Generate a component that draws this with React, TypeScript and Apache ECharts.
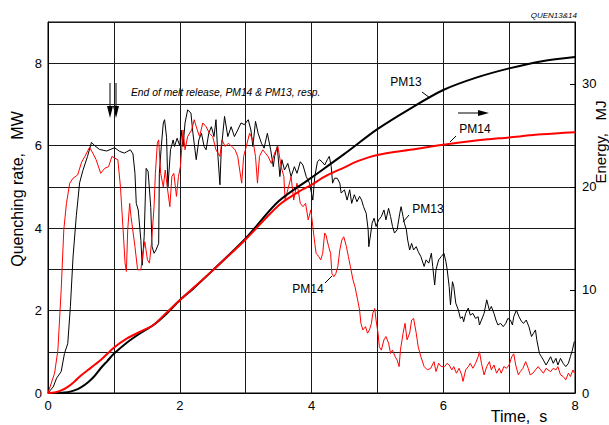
import React, { useEffect, useRef } from "react";
import * as echarts from "echarts";

// Quenching rate, MW  [time s, MW]
const pm13Quench: number[][] = [
  [0,0],[0.08,0.15],[0.13,0.36],[0.2,0.52],[0.25,0.96],[0.3,1.2],[0.34,2.1],[0.38,3.3],[0.43,4.3],[0.48,5.1],[0.53,5.4],[0.6,5.74],[0.66,6.08],[0.71,6.0],[0.78,5.91],[0.89,5.87],[1.01,5.95],[1.09,5.86],[1.16,5.82],[1.25,5.9],[1.29,5.8],[1.32,5.33],[1.34,4.6],[1.37,4.44],[1.41,3.7],[1.43,3.1],[1.46,3.8],[1.49,5.45],[1.52,5.37],[1.56,4.5],[1.58,3.55],[1.61,3.39],[1.64,3.47],[1.68,3.63],[1.69,5.33],[1.72,5.98],[1.75,6.55],[1.77,6.63],[1.8,6.2],[1.82,5.0],[1.86,5.9],[1.9,6.14],[1.92,5.98],[1.96,6.18],[2.0,6.0],[2.02,6.38],[2.05,5.98],[2.08,6.55],[2.12,6.87],[2.17,6.79],[2.2,6.3],[2.25,5.66],[2.29,6.14],[2.33,6.3],[2.37,5.98],[2.4,5.9],[2.44,6.3],[2.48,6.46],[2.52,6.22],[2.55,6.63],[2.58,5.74],[2.61,5.05],[2.63,5.9],[2.68,6.71],[2.73,6.22],[2.78,6.46],[2.83,6.22],[2.88,6.38],[2.93,6.55],[2.98,6.51],[3.04,6.63],[3.08,6.38],[3.11,5.98],[3.15,6.59],[3.19,6.3],[3.24,6.06],[3.28,5.94],[3.33,6.3],[3.38,5.9],[3.42,5.49],[3.44,5.74],[3.48,5.98],[3.52,5.25],[3.55,5.66],[3.59,5.41],[3.64,5.57],[3.69,5.25],[3.74,5.49],[3.78,5.33],[3.83,5.61],[3.87,5.53],[3.92,5.25],[3.97,5.09],[4.02,4.68],[4.05,5.25],[4.09,5.61],[4.12,5.66],[4.16,5.61],[4.2,5.53],[4.24,5.66],[4.27,5.74],[4.3,5.49],[4.32,5.09],[4.35,5.21],[4.39,5.21],[4.43,5.09],[4.45,4.85],[4.5,4.93],[4.54,4.68],[4.58,4.93],[4.61,4.6],[4.65,4.81],[4.69,4.64],[4.73,4.77],[4.76,4.68],[4.79,4.52],[4.83,4.36],[4.86,3.96],[4.87,3.55],[4.9,3.88],[4.92,4.12],[4.95,4.24],[4.98,4.04],[5.02,4.2],[5.06,4.28],[5.1,4.44],[5.13,4.2],[5.17,4.48],[5.2,4.28],[5.23,4.04],[5.26,3.88],[5.3,3.96],[5.34,4.36],[5.36,4.52],[5.39,4.28],[5.41,4.12],[5.44,3.96],[5.46,3.71],[5.49,3.47],[5.52,3.63],[5.55,3.47],[5.59,3.55],[5.62,3.43],[5.66,3.31],[5.71,3.07],[5.74,3.23],[5.78,3.15],[5.82,3.39],[5.84,3.07],[5.87,2.62],[5.89,2.99],[5.93,3.23],[5.97,3.31],[6.01,3.39],[6.04,3.19],[6.06,2.99],[6.09,2.58],[6.11,2.14],[6.14,2.7],[6.16,2.58],[6.19,2.18],[6.23,2.01],[6.26,1.81],[6.29,1.85],[6.31,1.73],[6.34,1.93],[6.38,2.06],[6.41,1.89],[6.45,1.93],[6.49,1.81],[6.53,1.85],[6.55,1.65],[6.58,1.77],[6.62,1.93],[6.66,2.26],[6.7,2.01],[6.73,2.1],[6.77,1.93],[6.8,1.77],[6.83,1.65],[6.87,1.69],[6.91,1.61],[6.95,1.69],[6.98,1.81],[7.02,1.77],[7.05,1.65],[7.07,1.85],[7.11,2.01],[7.15,1.85],[7.19,1.73],[7.22,1.69],[7.26,1.77],[7.3,1.61],[7.34,1.37],[7.37,1.45],[7.4,1.53],[7.42,1.29],[7.46,0.96],[7.49,0.88],[7.52,0.8],[7.56,0.68],[7.59,0.76],[7.63,0.88],[7.67,0.72],[7.71,0.84],[7.74,0.68],[7.78,0.84],[7.82,0.72],[7.86,0.64],[7.9,0.72],[7.93,0.88],[7.96,1.04],[7.99,1.25]
];

const pm14Quench: number[][] = [
  [0,0],[0.1,0.48],[0.15,1.04],[0.2,2.5],[0.24,3.96],[0.28,4.6],[0.33,5.09],[0.38,5.21],[0.45,5.29],[0.51,5.6],[0.56,5.74],[0.63,5.96],[0.68,5.82],[0.73,5.66],[0.8,5.33],[0.86,5.45],[0.92,5.49],[0.97,5.74],[1.01,5.7],[1.06,5.66],[1.1,5.0],[1.14,3.96],[1.17,3.15],[1.19,2.95],[1.21,3.96],[1.24,4.6],[1.26,4.28],[1.32,3.55],[1.36,2.99],[1.41,2.99],[1.44,3.39],[1.47,3.67],[1.51,3.23],[1.54,3.15],[1.57,3.63],[1.61,4.52],[1.63,5.33],[1.66,6.06],[1.68,6.14],[1.71,5.33],[1.75,5.0],[1.78,5.41],[1.81,5.0],[1.85,4.52],[1.88,5.25],[1.91,5.33],[1.95,4.77],[1.98,5.25],[2.01,5.49],[2.05,6.38],[2.08,5.9],[2.12,6.22],[2.18,6.38],[2.22,6.63],[2.25,6.46],[2.3,6.22],[2.35,6.55],[2.4,6.46],[2.45,6.3],[2.5,6.22],[2.55,5.9],[2.61,5.74],[2.64,6.14],[2.69,5.98],[2.74,6.06],[2.79,5.98],[2.84,5.9],[2.88,5.74],[2.91,5.41],[2.94,5.09],[2.97,5.74],[3.01,5.98],[3.06,6.3],[3.11,6.14],[3.15,5.74],[3.18,5.09],[3.21,5.74],[3.26,5.9],[3.3,5.82],[3.34,5.74],[3.39,5.57],[3.44,5.82],[3.49,5.98],[3.54,5.49],[3.58,5.25],[3.6,4.68],[3.64,4.93],[3.69,5.25],[3.73,4.68],[3.78,5.09],[3.83,4.6],[3.87,4.52],[3.91,4.6],[3.95,4.2],[3.99,4.44],[4.02,4.04],[4.05,3.63],[4.07,3.39],[4.11,3.31],[4.14,3.23],[4.17,3.39],[4.2,3.88],[4.22,3.83],[4.26,3.55],[4.29,3.39],[4.31,2.9],[4.34,2.82],[4.37,2.9],[4.4,3.07],[4.43,3.47],[4.46,3.71],[4.49,3.79],[4.53,3.55],[4.56,3.31],[4.59,3.07],[4.63,2.74],[4.66,2.58],[4.7,2.26],[4.73,2.01],[4.75,1.69],[4.78,1.53],[4.82,1.61],[4.85,1.45],[4.88,1.53],[4.91,1.69],[4.93,1.93],[4.96,2.05],[4.98,1.77],[5.01,1.45],[5.03,1.12],[5.06,1.04],[5.1,1.29],[5.13,1.37],[5.17,1.21],[5.2,0.96],[5.23,1.04],[5.27,0.88],[5.3,0.8],[5.33,0.64],[5.35,1.04],[5.39,1.45],[5.42,1.69],[5.45,1.29],[5.49,1.45],[5.52,1.77],[5.55,1.81],[5.59,1.45],[5.62,1.12],[5.66,0.88],[5.71,0.64],[5.76,0.56],[5.81,0.6],[5.86,0.76],[5.89,0.52],[5.93,0.72],[5.97,0.64],[6.02,0.64],[6.06,0.72],[6.09,0.68],[6.13,0.56],[6.16,0.64],[6.2,0.48],[6.24,0.6],[6.28,0.44],[6.3,0.28],[6.34,0.56],[6.38,0.64],[6.41,0.72],[6.45,0.6],[6.49,0.72],[6.53,0.88],[6.55,1.0],[6.58,0.72],[6.62,0.44],[6.66,0.64],[6.7,0.76],[6.73,0.56],[6.77,0.68],[6.81,0.48],[6.85,0.6],[6.88,0.48],[6.92,0.64],[6.96,0.6],[7.0,0.68],[7.04,0.88],[7.07,0.95],[7.1,0.68],[7.14,0.44],[7.17,0.52],[7.21,0.6],[7.25,0.76],[7.29,0.6],[7.32,0.44],[7.36,0.48],[7.4,0.56],[7.44,0.64],[7.48,0.56],[7.52,0.48],[7.56,0.6],[7.59,0.56],[7.63,0.52],[7.67,0.6],[7.71,0.56],[7.74,0.64],[7.78,0.44],[7.82,0.4],[7.86,0.32],[7.9,0.48],[7.93,0.4],[7.97,0.56],[7.99,0.48]
];

// Energy, MJ  [time s, MJ]
const pm13Energy: number[][] = [
  [0,0],[0.2,0.02],[0.3,0.08],[0.4,0.25],[0.5,0.55],[0.6,1.0],[0.7,1.6],[0.8,2.4],[0.9,3.1],[1.0,3.8],[1.2,4.9],[1.4,5.8],[1.6,6.6],[1.8,7.7],[2.0,9.0],[2.2,10.1],[2.5,11.9],[3.0,15.0],[3.5,18.6],[4.0,20.9],[4.5,23.2],[5.0,25.6],[5.5,27.6],[6.0,29.4],[6.5,30.6],[7.0,31.5],[7.5,32.2],[8.0,32.6]
];
const pm14Energy: number[][] = [
  [0,0],[0.1,0.05],[0.2,0.25],[0.3,0.6],[0.4,1.1],[0.5,1.7],[0.6,2.2],[0.8,3.2],[1.0,4.4],[1.2,5.3],[1.4,5.95],[1.6,6.6],[1.8,7.8],[2.0,9.0],[2.5,11.9],[3.0,14.9],[3.5,18.2],[3.8,19.5],[4.0,20.2],[4.2,21.0],[4.5,21.9],[4.7,22.5],[5.0,23.1],[5.5,23.6],[6.0,24.1],[6.5,24.5],[7.0,24.8],[7.5,25.1],[8.0,25.3]
];

const xLabels = [0, 2, 4, 6, 8];
const leftLabels = [0, 2, 4, 6, 8];
const rightLabels = [0, 10, 20, 30];

const FONT = "Liberation Sans, Arial, sans-serif";

export default function App() {
  const ref = useRef<HTMLDivElement>(null);
  useEffect(() => {
    document.body.style.margin = "0";
    if (!ref.current) return;
    const chart = echarts.init(ref.current, null, { renderer: "svg" });
    const txt = (x: number, y: number, text: string, size: number, extra: any = {}) => ({
      type: "text",
      x,
      y,
      style: { text, fontSize: size, fontFamily: FONT, fill: "#000", ...extra.style },
      ...extra.el,
    });
    const line = (x1: number, y1: number, x2: number, y2: number, w = 1) => ({
      type: "line",
      shape: { x1, y1, x2, y2 },
      style: { stroke: "#000", lineWidth: w },
    });
    const downArrow = (x: number) => [
      line(x, 83, x, 108),
      { type: "polygon", shape: { points: [[x - 3, 106], [x + 3, 106], [x, 118]] }, style: { fill: "#000" } },
    ];
    chart.setOption({
      animation: false,
      backgroundColor: "#fff",
      grid: { left: 48, right: 34, top: 22, bottom: 32, show: true, borderColor: "#000", borderWidth: 1, backgroundColor: "transparent" },
      xAxis: {
        type: "value", min: 0, max: 8, interval: 1,
        axisLine: { show: true, lineStyle: { color: "#000", width: 1 } },
        axisTick: { show: false },
        axisLabel: { customValues: xLabels, color: "#000", fontSize: 13, fontFamily: FONT, margin: 6 },
        splitLine: { show: true, lineStyle: { color: "#1a1a1a", width: 1 } },
      },
      yAxis: [
        {
          type: "value", min: 0, max: 9, interval: 1,
          axisLine: { show: true, lineStyle: { color: "#000", width: 1 } },
          axisTick: { show: false },
          axisLabel: { customValues: leftLabels, color: "#000", fontSize: 13, fontFamily: FONT, margin: 6 },
          splitLine: { show: true, lineStyle: { color: "#1a1a1a", width: 1 } },
        },
        {
          type: "value", min: 0, max: 36, interval: 10, position: "right",
          axisLine: { show: true, lineStyle: { color: "#000", width: 1 } },
          axisTick: { show: true, inside: true, length: 5, customValues: rightLabels, lineStyle: { color: "#000" } },
          axisLabel: { customValues: rightLabels, color: "#000", fontSize: 13, fontFamily: FONT, margin: 7 },
          splitLine: { show: false },
        },
      ],
      series: [
        { name: "PM13 quench", type: "line", data: pm13Quench, yAxisIndex: 0, showSymbol: false, lineStyle: { color: "#000", width: 1 }, itemStyle: { color: "#000" } },
        { name: "PM14 quench", type: "line", data: pm14Quench, yAxisIndex: 0, showSymbol: false, lineStyle: { color: "#ff0000", width: 1 }, itemStyle: { color: "#ff0000" } },
        { name: "PM13 energy", type: "line", data: pm13Energy, yAxisIndex: 1, smooth: 0.3, showSymbol: false, lineStyle: { color: "#000", width: 2 }, itemStyle: { color: "#000" } },
        { name: "PM14 energy", type: "line", data: pm14Energy, yAxisIndex: 1, smooth: 0.3, showSymbol: false, lineStyle: { color: "#ff0000", width: 2 }, itemStyle: { color: "#ff0000" } },
      ],
      graphic: [
        txt(577, 15, "QUEN13&14", 8, { style: { fontStyle: "italic", align: "right", verticalAlign: "middle" } }),
        txt(131, 92, "End of melt release, PM14 & PM13, resp.", 10.3, { style: { fontStyle: "italic", verticalAlign: "middle" } }),
        ...downArrow(110),
        ...downArrow(116),
        txt(406, 82, "PM13", 12, { style: { align: "center", verticalAlign: "middle" } }),
        line(422, 92, 430, 98),
        line(458, 113, 480, 113),
        { type: "polygon", shape: { points: [[478, 110], [478, 116], [489, 113]] }, style: { fill: "#000" } },
        txt(475, 129, "PM14", 12, { style: { align: "center", verticalAlign: "middle" } }),
        line(450, 142, 456, 136),
        txt(428, 209, "PM13", 12, { style: { align: "center", verticalAlign: "middle" } }),
        line(409, 215, 403, 222),
        txt(308, 289, "PM14", 12, { style: { align: "center", verticalAlign: "middle" } }),
        line(325, 283, 332, 276),
        txt(17, 189, "Quenching rate,   MW", 16, { style: { align: "center", verticalAlign: "middle" }, el: { rotation: Math.PI / 2 } }),
        txt(600, 142, "Energy,   MJ", 15, { style: { align: "center", verticalAlign: "middle" }, el: { rotation: Math.PI / 2 } }),
        txt(519, 416, "Time,  s", 16, { style: { align: "center", verticalAlign: "middle" } }),
      ],
    });
    return () => chart.dispose();
  }, []);
  return <div ref={ref} style={{ width: 609, height: 425 }} />;
}
